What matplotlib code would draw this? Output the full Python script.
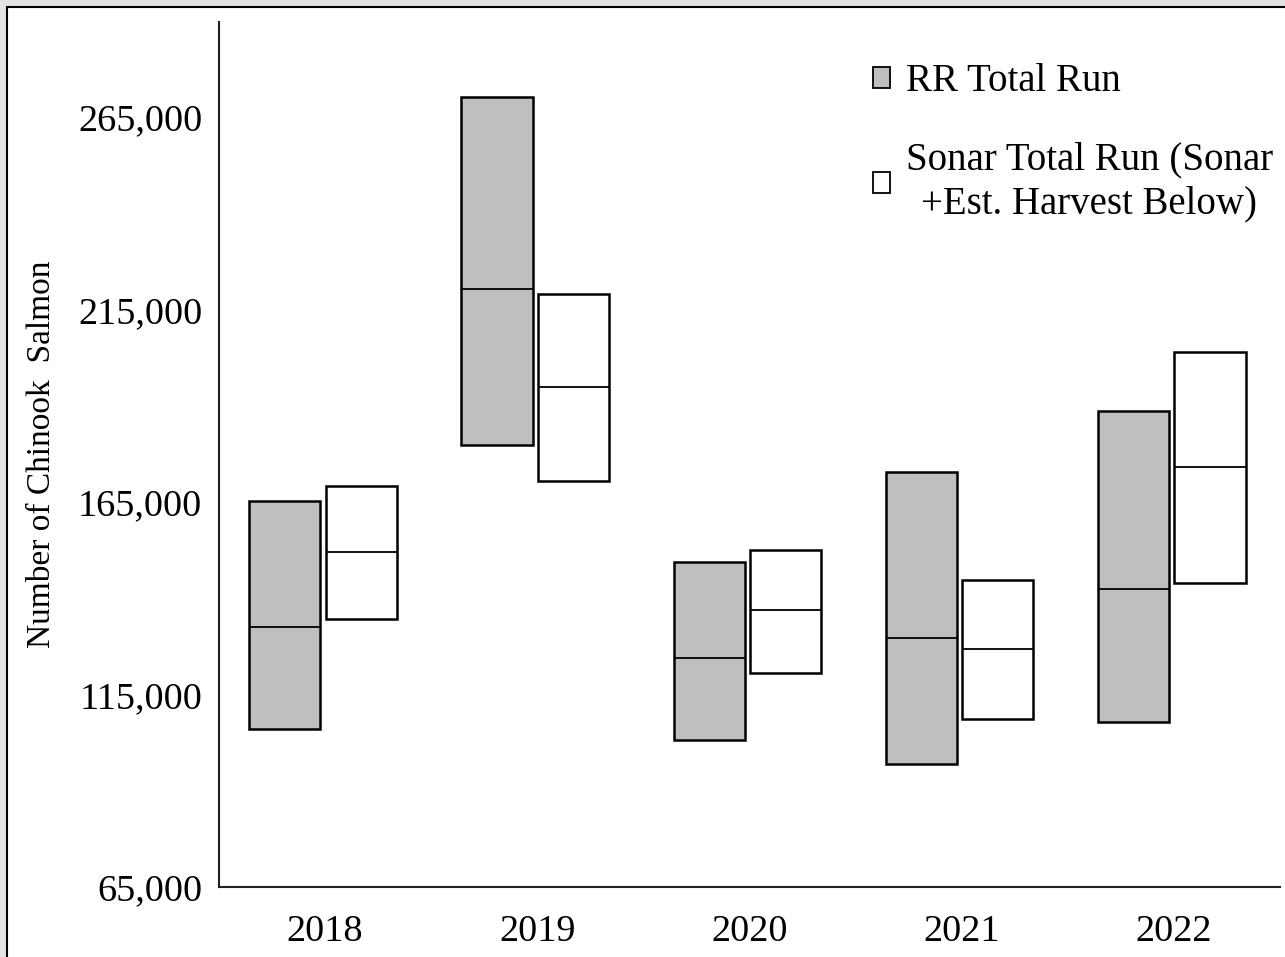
import numpy as np
import matplotlib
matplotlib.use("Agg")
from matplotlib import pyplot as plt
from matplotlib.patches import Patch, Rectangle

# Datos (limite inferior, estimacion, limite superior)
years = ["2018", "2019", "2020", "2021", "2022"]
rr_low = [106000, 179800, 103200, 96900, 107900]
rr_mid = [132500, 220300, 124500, 129700, 142400]
rr_high = [165300, 270200, 149400, 172800, 188600]
sonar_low = [134600, 170500, 120600, 108600, 144000]
sonar_mid = [152000, 194900, 136900, 126800, 174100]
sonar_high = [169200, 219000, 152500, 144700, 204000]
yticks = [65000, 115000, 165000, 215000, 265000]

plt.rcParams['font.family'] = ['Liberation Serif', 'DejaVu Serif']

fig = plt.figure(figsize=(12.85, 9.57), dpi=100)
fig.patch.set_facecolor('#e3e3e3')
# marco blanco con borde negro (recorte de captura)
fig.patches.append(Rectangle((7 / 1285, -0.05), 1.1, 1 - 7 / 957 + 0.05,
                             transform=fig.transFigure, facecolor='white',
                             edgecolor='black', linewidth=1.5, zorder=-5))

ax = fig.add_axes([219 / 1285, 70 / 957, 1061 / 1285, 865 / 957])
ax.set_facecolor('none')

x = np.arange(len(years))
w = 0.335
off_rr = -0.19
off_so = 0.17

rr_low = np.array(rr_low); rr_high = np.array(rr_high)
sonar_low = np.array(sonar_low); sonar_high = np.array(sonar_high)

ax.bar(x + off_rr, rr_high - rr_low, bottom=rr_low, width=w,
       color='#bfbfbf', edgecolor='black', linewidth=1.8, zorder=2)
ax.bar(x + off_so, sonar_high - sonar_low, bottom=sonar_low, width=w,
       color='white', edgecolor='black', linewidth=1.8, zorder=2)
ax.hlines(rr_mid, x + off_rr - w / 2, x + off_rr + w / 2, color='black', linewidth=1.3, zorder=3)
ax.hlines(sonar_mid, x + off_so - w / 2, x + off_so + w / 2, color='black', linewidth=1.3, zorder=3)

ax.set_xlim(-0.5, 4.5)
ax.set_ylim(65000, 289700)
ax.set_xticks(x)
ax.set_xticklabels(years)
ax.set_yticks(yticks)
ax.set_yticklabels([f"{v:,}" for v in yticks])
ax.tick_params(axis='both', length=0, labelsize=27.5)
ax.tick_params(axis='y', pad=12)
ax.tick_params(axis='x', pad=20)

for s in ['top', 'right']:
    ax.spines[s].set_visible(False)
for s in ['left', 'bottom']:
    ax.spines[s].set_linewidth(1.5)
    ax.spines[s].set_color('#222222')

ax.set_ylabel("Number of Chinook  Salmon", fontsize=24, labelpad=15)

handles = [Patch(facecolor='#bfbfbf', edgecolor='black', linewidth=1.3),
           Patch(facecolor='white', edgecolor='black', linewidth=1.3)]
labels = ["RR Total Run", "Sonar Total Run (Sonar\n+Est. Harvest Below)"]
leg = ax.legend(handles, labels, loc='upper right',
                bbox_to_anchor=(1.0 + 20 / 1061, 1.0 - 14 / 865),
                frameon=False, fontsize=28, handlelength=0.45, handleheight=0.45,
                handletextpad=0.4, labelspacing=1.05, borderaxespad=0.3)
for t in leg.get_texts():
    t.set_multialignment('center')
    t.set_linespacing(1.28)

fig.savefig("out.png", dpi=100, facecolor=fig.get_facecolor())
